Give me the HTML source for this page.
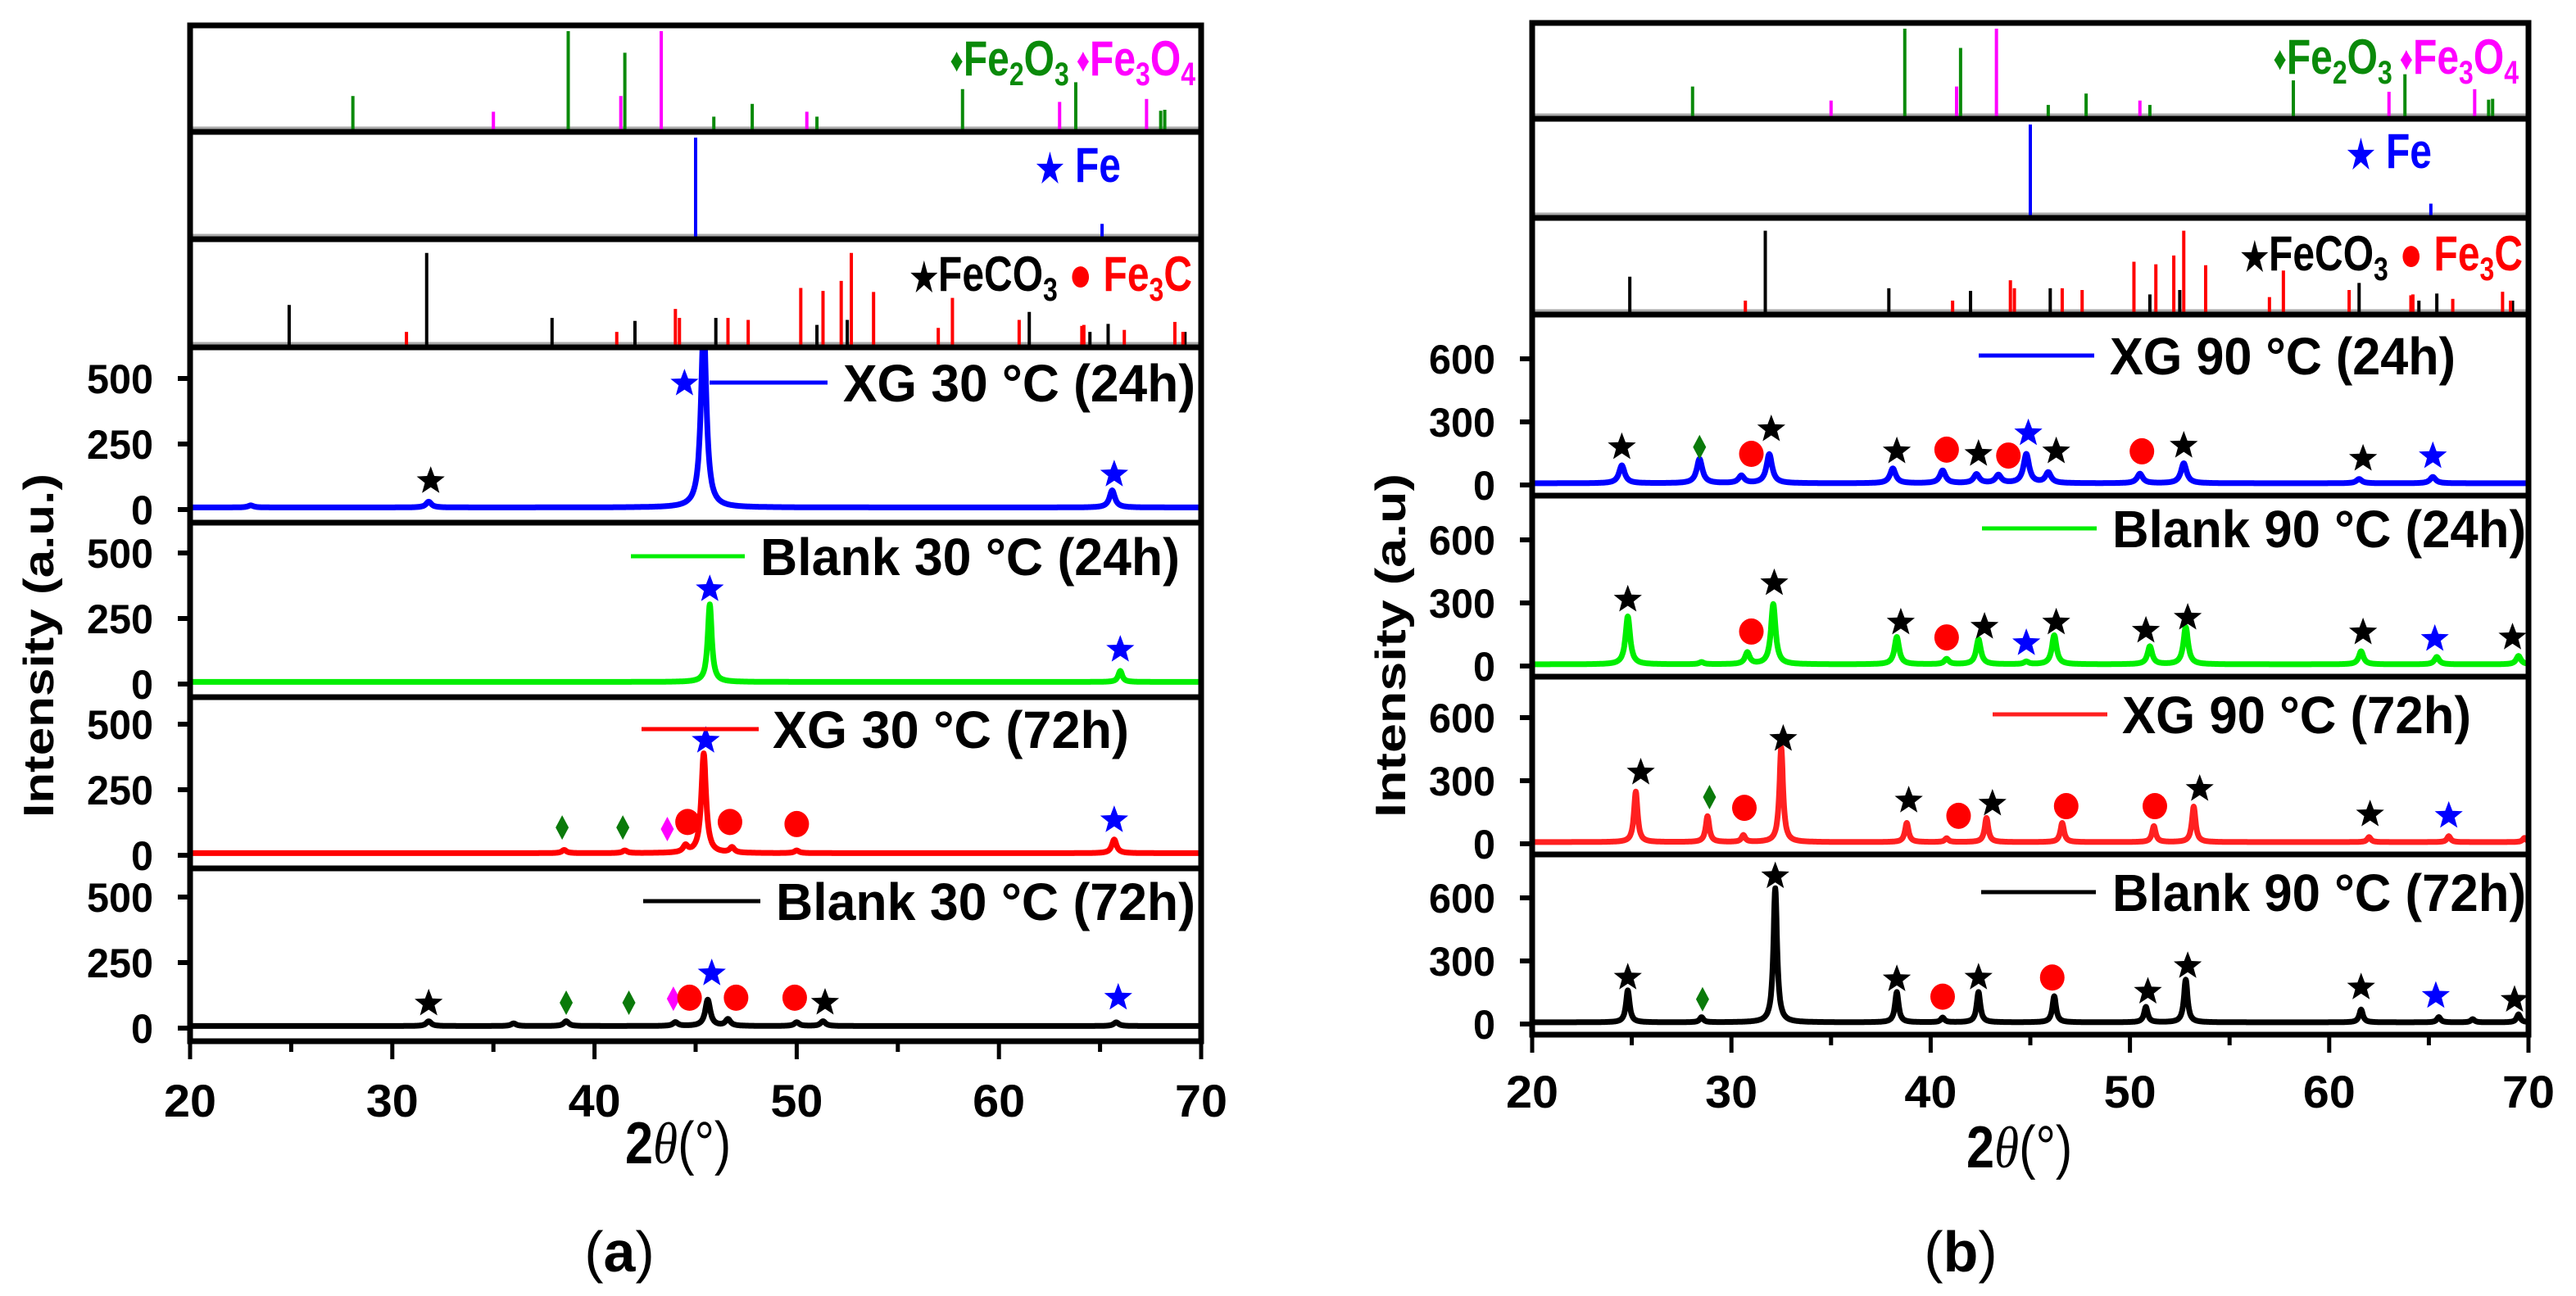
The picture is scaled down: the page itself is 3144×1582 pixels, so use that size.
<!DOCTYPE html>
<html><head><meta charset="utf-8"><style>
html,body{margin:0;padding:0;background:#fff;}
svg{display:block;}
text{font-family:"Liberation Sans",sans-serif;}
</style></head><body>
<svg id="chart" xmlns="http://www.w3.org/2000/svg" width="3144" height="1582" viewBox="0 0 3144 1582"></svg>
<script>
// ---------- data ----------
const xTicks=[20,30,40,50,60,70];
const xMinorTicks=[25,35,45,55,65];
const leftYTicks=[0,250,500];
const rightYTicks=[0,300,600];

const refFe2O3Pos=[28.05,38.7,41.5,45.9,47.8,51.0,58.2,63.8,68.0,68.2];
const refFe2O3Rel=[0.34,1.0,0.78,0.13,0.26,0.13,0.41,0.48,0.19,0.2];
const refFe3O4Pos=[35.0,41.3,43.3,50.5,63.0,67.3];
const refFe3O4Rel=[0.18,0.34,1.0,0.18,0.28,0.31];
const refFePos=[45.0,65.1];
const refFeRel=[1.0,0.13];
const refFeCO3Pos=[24.9,31.7,37.9,42.0,46.0,51.0,52.5,61.5,64.5,65.4,69.2];
const refFeCO3Rel=[0.4,0.92,0.27,0.24,0.27,0.2,0.25,0.33,0.13,0.21,0.13];
const refFe3CPos=[30.7,41.1,44.0,44.2,46.6,47.6,50.2,51.3,52.2,52.7,53.8,57.0,57.7,61.0,64.1,64.2,66.2,68.7,69.1];
const refFe3CRel=[0.13,0.13,0.36,0.27,0.27,0.25,0.57,0.54,0.64,0.92,0.53,0.17,0.47,0.25,0.19,0.2,0.15,0.23,0.13];

// left figure (30 °C) spectra: peak positions / heights
const seriesLabelsA=["XG 30 °C (24h)","Blank 30 °C (24h)","XG 30 °C (72h)","Blank 30 °C (72h)"];
const xg30d1Pos=[23.0,31.8,45.4,65.6];
const xg30d1Hgt=[8,22,700,65];
const bl30d1Pos=[45.7,66.0];
const bl30d1Hgt=[296,42];
const xg30d3Pos=[38.5,41.5,44.5,45.4,46.8,50.0,65.7];
const xg30d3Hgt=[12,10,25,380,20,10,52];
const bl30d3Pos=[31.8,36.0,38.6,44.0,45.6,46.6,50.0,51.3,65.8];
const bl30d3Hgt=[18,10,18,14,100,25,14,18,14];

// right figure (90 °C) spectra
const seriesLabelsB=["XG 90 °C (24h)","Blank 90 °C (24h)","XG 90 °C (72h)","Blank 90 °C (72h)"];
const xg90d1Pos=[24.5,28.4,30.5,31.9,38.1,40.6,42.3,43.4,44.8,45.9,50.5,52.7,61.5,65.2];
const xg90d1Hgt=[85,115,35,138,70,60,42,38,138,50,45,95,20,30];
const bl90d1Pos=[24.8,28.5,30.8,32.1,38.3,40.8,42.4,44.8,46.2,51.0,52.8,61.6,65.4,69.5];
const bl90d1Hgt=[228,10,55,286,130,25,119,12,138,85,177,62,35,40];
const xg90d3Pos=[25.2,28.8,30.6,32.5,38.8,40.8,42.8,46.6,51.2,53.2,62.0,66.0,69.8];
const xg90d3Hgt=[240,123,32,450,91,18,115,91,76,169,24,28,20];
const bl90d3Pos=[24.8,28.5,32.2,38.3,40.6,42.4,46.2,50.8,52.8,61.6,65.5,67.2,69.5];
const bl90d3Hgt=[152,24,638,144,22,144,124,73,203,61,25,15,38];

// phase markers: x (2θ), y (intensity), type
const mA0X=[31.9,44.45,65.7]; const mA0Y=[109,481,134]; const mA0T=["s","b","b"];
const mA1X=[45.7,66.0]; const mA1Y=[362,131]; const mA1T=["b","b"];
const mA2X=[38.4,41.4,43.6,44.6,45.5,46.7,50.0,65.7]; const mA2Y=[106,106,100,127,437,127,119,134]; const mA2T=["d","d","m","c","b","c","c","b"];
const mA3X=[31.8,38.6,41.7,43.9,44.7,45.8,47.0,49.9,51.4,65.9]; const mA3Y=[94,97,97,112,116,209,116,116,97,116]; const mA3T=["s","d","d","m","c","b","c","c","s","b"];
const mB0X=[24.5,28.4,31.0,32.0,38.3,40.8,42.4,43.9,44.9,46.3,50.6,52.7,61.7,65.2]; const mB0Y=[180,180,148,265,160,168,148,140,246,160,160,187,125,137]; const mB0T=["s","d","c","s","s","c","s","c","b","s","c","s","s","b"];
const mB1X=[24.8,31.0,32.15,38.5,40.8,42.7,44.8,46.3,50.8,52.9,61.7,65.3,69.2]; const mB1Y=[316,164,394,207,136,187,109,207,168,230,160,129,136]; const mB1T=["s","c","s","s","c","s","b","s","s","s","s","b","s"];
const mB2X=[25.45,28.9,30.65,32.6,38.9,41.4,43.1,46.8,51.25,53.5,62.05,66.0]; const mB2Y=[339,222,171,499,206,133,191,179,179,261,140,133]; const mB2T=["s","d","c","s","s","c","s","c","c","s","s","b"];
const mB3X=[24.8,28.55,32.2,38.3,40.6,42.4,46.1,50.9,52.9,61.6,65.35,69.3]; const mB3Y=[221,118,703,213,130,221,221,154,276,174,134,115]; const mB3T=["s","d","s","s","c","s","c","s","s","s","b","s"];

// ---------- helpers ----------
const svg=document.getElementById('chart');
const NS='http://www.w3.org/2000/svg';
function mk(tag,attrs,parent){const e=document.createElementNS(NS,tag);for(const k in attrs)e.setAttribute(k,attrs[k]);(parent||svg).appendChild(e);return e;}

const figs=[
 {id:'a',x0:232,x1:1466,rows:[31,161,292,424,638,851,1060,1271],zeroOff:16,ppu:80/250,yTicks:leftYTicks,
  labels:seriesLabelsA,colors:["#0000ff","#00ee00","#ff0000","#000000"],
  series:[[xg30d1Pos,xg30d1Hgt],[bl30d1Pos,bl30d1Hgt],[xg30d3Pos,xg30d3Hgt],[bl30d3Pos,bl30d3Hgt]],
  widths:[0.16,0.12,0.14,0.15],
  marks:[[mA0X,mA0Y,mA0T],[mA1X,mA1Y,mA1T],[mA2X,mA2Y,mA2T],[mA3X,mA3Y,mA3T]],
  leg:[[866,1010,467,1029,430],[770,909,679,928,512],[783,926,890,943,435],[785,928,1100,947,512]],
  ylab:[48,788,"Intensity (a.u.)"],xlabY:1420,xlabX:763,tickLabY:1363,cap:[756,1552,"a"],
  refLab:[[1459,71],[1368,201],[1455,334]]},
 {id:'b',x0:1870,x1:3086,rows:[28,145,266,384,605,826,1043,1263],zeroOff:13,ppu:77/300,yTicks:rightYTicks,
  labels:seriesLabelsB,colors:["#0000ff","#00ee00","#ff2020","#000000"],
  series:[[xg90d1Pos,xg90d1Hgt],[bl90d1Pos,bl90d1Hgt],[xg90d3Pos,xg90d3Hgt],[bl90d3Pos,bl90d3Hgt]],
  widths:[0.17,0.14,0.11,0.11],
  marks:[[mB0X,mB0Y,mB0T],[mB1X,mB1Y,mB1T],[mB2X,mB2Y,mB2T],[mB3X,mB3Y,mB3T]],
  leg:[[2415,2556,434,2575,422],[2419,2559,645,2578,505],[2432,2572,872,2590,426],[2418,2558,1089,2578,505]],
  ylab:[1698,788,"Intensity (a.u)"],xlabY:1425,xlabX:2400,tickLabY:1352,cap:[2393,1552,"b"],
  refLab:[[3074,69],[2968,184],[3079,309]]}
];

function xs(f,v){return f.x0+(v-20)/50*(f.x1-f.x0);}
function ys(f,r,v){return f.rows[r+4]-f.zeroOff-v*f.ppu;}

function starPath(cx,cy,R){let d='';const r=R*0.42;for(let i=0;i<10;i++){const a=-Math.PI/2+i*Math.PI/5;const rr=i%2?r:R;d+=(i?'L':'M')+(cx+rr*Math.cos(a)).toFixed(1)+' '+(cy+rr*Math.sin(a)).toFixed(1);}return d+'Z';}

figs.forEach(f=>{
 const g=mk('g',{});
 
 
 const W=f.x1-f.x0;
 const refSets=[
  [[refFe2O3Pos,refFe2O3Rel,'#0a8a0a'],[refFe3O4Pos,refFe3O4Rel,'#ff00ff']],
  [[refFePos,refFeRel,'#0000ff']],
  [[refFeCO3Pos,refFeCO3Rel,'#000000'],[refFe3CPos,refFe3CRel,'#ff0000']]];
 const refNames=['ref-iron-oxides','ref-iron','ref-feco3-fe3c'];
 refSets.forEach((set,ri)=>{
  const top=f.rows[ri],bot=f.rows[ri+1];
  const rg=mk('g',{},g);
  
  
  mk('line',{x1:f.x0,x2:f.x1,y1:bot-5,y2:bot-5,stroke:'#aaa','stroke-width':3},rg);
  set.forEach(s=>{
   s[0].forEach((p,i)=>{
    const x=xs(f,p);
    const ln=mk('line',{x1:x,x2:x,y1:bot-3,y2:bot-3-s[1][i]*(bot-top-10),stroke:s[2],'stroke-width':4},rg);
    
    
   });
  });
 });
 const L=f.refLab;
 let t=mk('text',{transform:`translate(${L[0][0]},${L[0][1]+21}) scale(0.8,1)`,'text-anchor':'end','font-size':60,'font-weight':'bold'},g);
 
 
 t.innerHTML='<tspan fill="#0a8a0a" font-size="40" dy="-5">♦</tspan><tspan fill="#0a8a0a" dy="5">Fe</tspan><tspan fill="#0a8a0a" font-size="40" dy="12">2</tspan><tspan fill="#0a8a0a" dy="-12">O</tspan><tspan fill="#0a8a0a" font-size="40" dy="12">3</tspan><tspan fill="#ff00ff" font-size="40" dy="-17"> ♦</tspan><tspan fill="#ff00ff" dy="5">Fe</tspan><tspan fill="#ff00ff" font-size="40" dy="12">3</tspan><tspan fill="#ff00ff" dy="-12">O</tspan><tspan fill="#ff00ff" font-size="40" dy="12">4</tspan>';
 t=mk('text',{transform:`translate(${L[1][0]},${L[1][1]+21}) scale(0.8,1)`,'text-anchor':'end','font-size':60,'font-weight':'bold',fill:'#0000ff'},g);
 
 
 t.innerHTML='<tspan font-size="48">★</tspan> Fe';
 t=mk('text',{transform:`translate(${L[2][0]},${L[2][1]+21}) scale(0.8,1)`,'text-anchor':'end','font-size':60,'font-weight':'bold'},g);
 
 
 t.innerHTML='<tspan fill="#000" font-size="48">★</tspan><tspan fill="#000">FeCO</tspan><tspan fill="#000" font-size="40" dy="12">3</tspan><tspan fill="#ff0000" dy="-12"> ● Fe</tspan><tspan fill="#ff0000" font-size="40" dy="12">3</tspan><tspan fill="#ff0000" dy="-12">C</tspan>';

 for(let r=0;r<4;r++){
  const top=f.rows[r+3],bot=f.rows[r+4];
  const cl=mk('clipPath',{id:'c'+f.id+r},g);
  mk('rect',{x:f.x0,y:top,width:W,height:bot-top},cl);
  const pg=mk('g',{'clip-path':`url(#c${f.id}${r})`},g);
  
  
  const pos=f.series[r][0],hgt=f.series[r][1],w=f.widths[r];
  let d='';
  for(let x=20;x<=70.0001;x+=0.02){
   let v=8;
   for(let i=0;i<pos.length;i++){const u=(x-pos[i])/w;v+=hgt[i]/(1+u*u);}
   d+=(d?'L':'M')+xs(f,x).toFixed(1)+' '+ys(f,r,v).toFixed(1);
  }
  const path=mk('path',{d:d,fill:'none',stroke:f.colors[r],'stroke-width':7,'stroke-linejoin':'round'},pg);
  
  
  const mx=f.marks[r][0],my=f.marks[r][1],mt=f.marks[r][2];
  mx.forEach((xv,i)=>{
   const cx=xs(f,xv),cy=ys(f,r,my[i]);let m;
   if(mt[i]==='s'||mt[i]==='b'){m=mk('path',{d:starPath(cx,cy,18),fill:mt[i]==='s'?'#000':'#0000ff'},g);}
   else if(mt[i]==='c'){m=mk('ellipse',{cx:cx,cy:cy,rx:15,ry:16,fill:'#ff0000'},g);}
   else{m=mk('path',{d:`M${cx} ${cy-15}L${cx+8} ${cy}L${cx} ${cy+15}L${cx-8} ${cy}Z`,fill:mt[i]==='d'?'#0a7a0a':'#ff00ff'},g);}
   
   
  });
  const lg=f.leg[r];
  const ll=mk('line',{x1:lg[0],x2:lg[1],y1:lg[2],y2:lg[2],stroke:f.colors[r],'stroke-width':5},g);
  
  
  const lt=mk('text',{x:lg[3],y:lg[2]+23,'font-size':64,'font-weight':'bold',textLength:lg[4],lengthAdjust:'spacingAndGlyphs',fill:'#000'},g);
  
  
  lt.textContent=f.labels[r];
  f.yTicks.forEach(tv=>{
   const y=ys(f,r,tv);
   const tk=mk('line',{x1:f.x0-15,x2:f.x0,y1:y,y2:y,stroke:'#000','stroke-width':6},g);
   
   
   const s=String(tv);
   const tl=mk('text',{x:f.x0-45,y:y+18,'text-anchor':'end','font-size':50,'font-weight':'bold',textLength:s.length*27,lengthAdjust:'spacingAndGlyphs'},g);
   
   
   tl.textContent=s;
  });
 }
 for(let r=0;r<7;r++){
  const fr=mk('rect',{x:f.x0,y:f.rows[r],width:W,height:f.rows[r+1]-f.rows[r],fill:'none',stroke:'#000','stroke-width':7},g);
  
  
 }
 const yb=f.rows[7];
 xTicks.forEach(tv=>{
  const x=xs(f,tv);
  const tk=mk('line',{x1:x,x2:x,y1:yb,y2:yb+22,stroke:'#000','stroke-width':5},g);
  
  
  const tl=mk('text',{x:x,y:f.tickLabY,'text-anchor':'middle','font-size':56,'font-weight':'bold',textLength:64,lengthAdjust:'spacingAndGlyphs'},g);
  
  
  tl.textContent=String(tv);
 });
 xMinorTicks.forEach(tv=>{
  const x=xs(f,tv);
  const tk=mk('line',{x1:x,x2:x,y1:yb,y2:yb+13,stroke:'#000','stroke-width':5},g);
  
  
 });
 const yl=mk('text',{x:0,y:0,transform:`translate(${f.ylab[0]+17},${f.ylab[1]}) rotate(-90)`,'text-anchor':'middle','font-size':52,'font-weight':'bold',textLength:420,lengthAdjust:'spacingAndGlyphs'},g);
 
 
 yl.textContent=f.ylab[2];
 const xl=mk('text',{transform:`translate(${f.xlabX},${f.xlabY}) scale(0.85,1)`,'font-size':72},g);
 
 
 xl.innerHTML='<tspan font-weight="bold">2</tspan><tspan font-family="Liberation Serif, serif" font-style="italic">θ</tspan><tspan>(°)</tspan>';
 const cap=mk('text',{x:f.cap[0],y:f.cap[1],'text-anchor':'middle','font-size':70,'font-family':'Liberation Serif, serif'},g);
 
 
 cap.innerHTML='(<tspan font-weight="bold">'+f.cap[2]+'</tspan>)';
});
</script>
</body></html>
